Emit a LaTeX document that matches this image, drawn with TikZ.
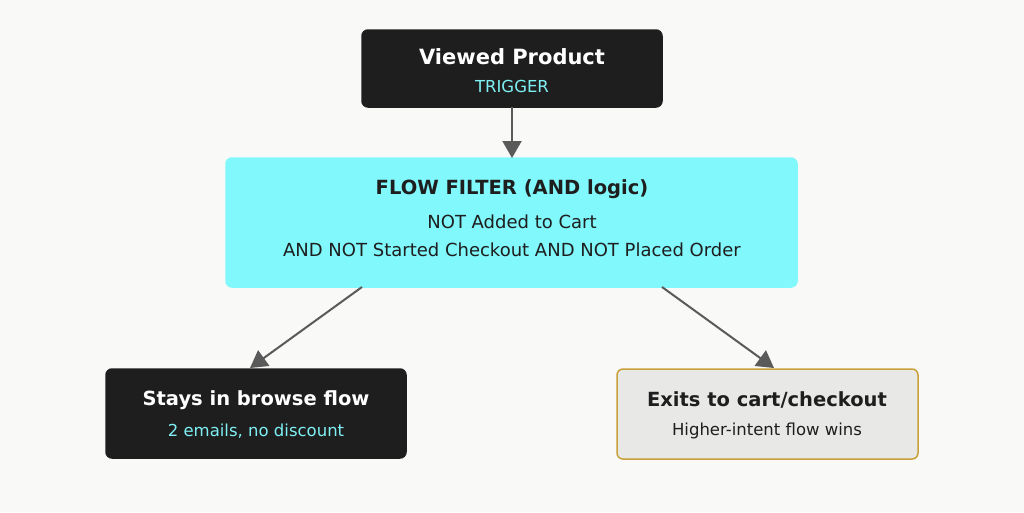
\documentclass[tikz,border=0pt]{standalone}
\usepackage{fontspec}
\setmainfont{DejaVu Sans}
\usetikzlibrary{arrows.meta}
\definecolor{bg}{HTML}{F9F9F7}
\definecolor{dark}{HTML}{1E1E1E}
\definecolor{cy}{HTML}{80F8FC}
\definecolor{cyt}{HTML}{7FF0F4}
\definecolor{lg}{HTML}{E8E8E6}
\definecolor{gold}{HTML}{C9A13A}
\definecolor{ar}{HTML}{5A5A5A}
\begin{document}
\begin{tikzpicture}[x=1pt,y=-1pt,
 box/.style={rounded corners=6pt,line width=1.5pt},
 conn/.style={draw=ar,line width=2pt,-{Triangle[length=17pt,width=19pt]}},
 t/.style={font=\fontsize{#1}{#1}\selectfont\bfseries,anchor=center},
 s/.style={font=\fontsize{#1}{#1}\selectfont,anchor=center}]
\fill[bg] (0,0) rectangle (1024,512);
\useasboundingbox (0,0) rectangle (1024,512);
\filldraw[box,fill=dark,draw=dark] (362,30) rectangle (662,107);
\coordinate (topS) at (512,107);
\filldraw[box,fill=cy,draw=cy] (226,158) rectangle (797,287);
\coordinate (fN) at (512,158);
\coordinate (fL) at (362,287);
\coordinate (fR) at (662,287);
\filldraw[box,fill=dark,draw=dark] (106,369) rectangle (406,458);
\coordinate (lN) at (250,368);
\filldraw[box,fill=lg,draw=gold] (617,369) rectangle (918,459);
\coordinate (rN) at (774,368);
\node[t=21,text=white] (a) at (512,57) {Viewed Product};
\node[s=16.5,text=cyt] (a2) at (512,86) {TRIGGER};
\node[t=19.5,text=dark] (b) at (512,189) {FLOW FILTER (AND logic)};
\node[s=18,text=dark] (b2) at (512,222) {NOT Added to Cart};
\node[s=18,text=dark] (b3) at (512,250) {AND NOT Started Checkout AND NOT Placed Order};
\node[t=19.5,text=white] (c) at (256,400) {Stays in browse flow};
\node[s=16.5,text=cyt] (c2) at (256,431) {2 emails, no discount};
\node[t=19.5,text=dark] (d) at (767,400) {Exits to cart/checkout};
\node[s=16.5,text=dark] (d2) at (767,431) {Higher-intent flow wins};
\draw[conn] (topS) -- (fN);
\draw[conn] (fL) -- (lN);
\draw[conn] (fR) -- (rN);
\end{tikzpicture}
\end{document}
